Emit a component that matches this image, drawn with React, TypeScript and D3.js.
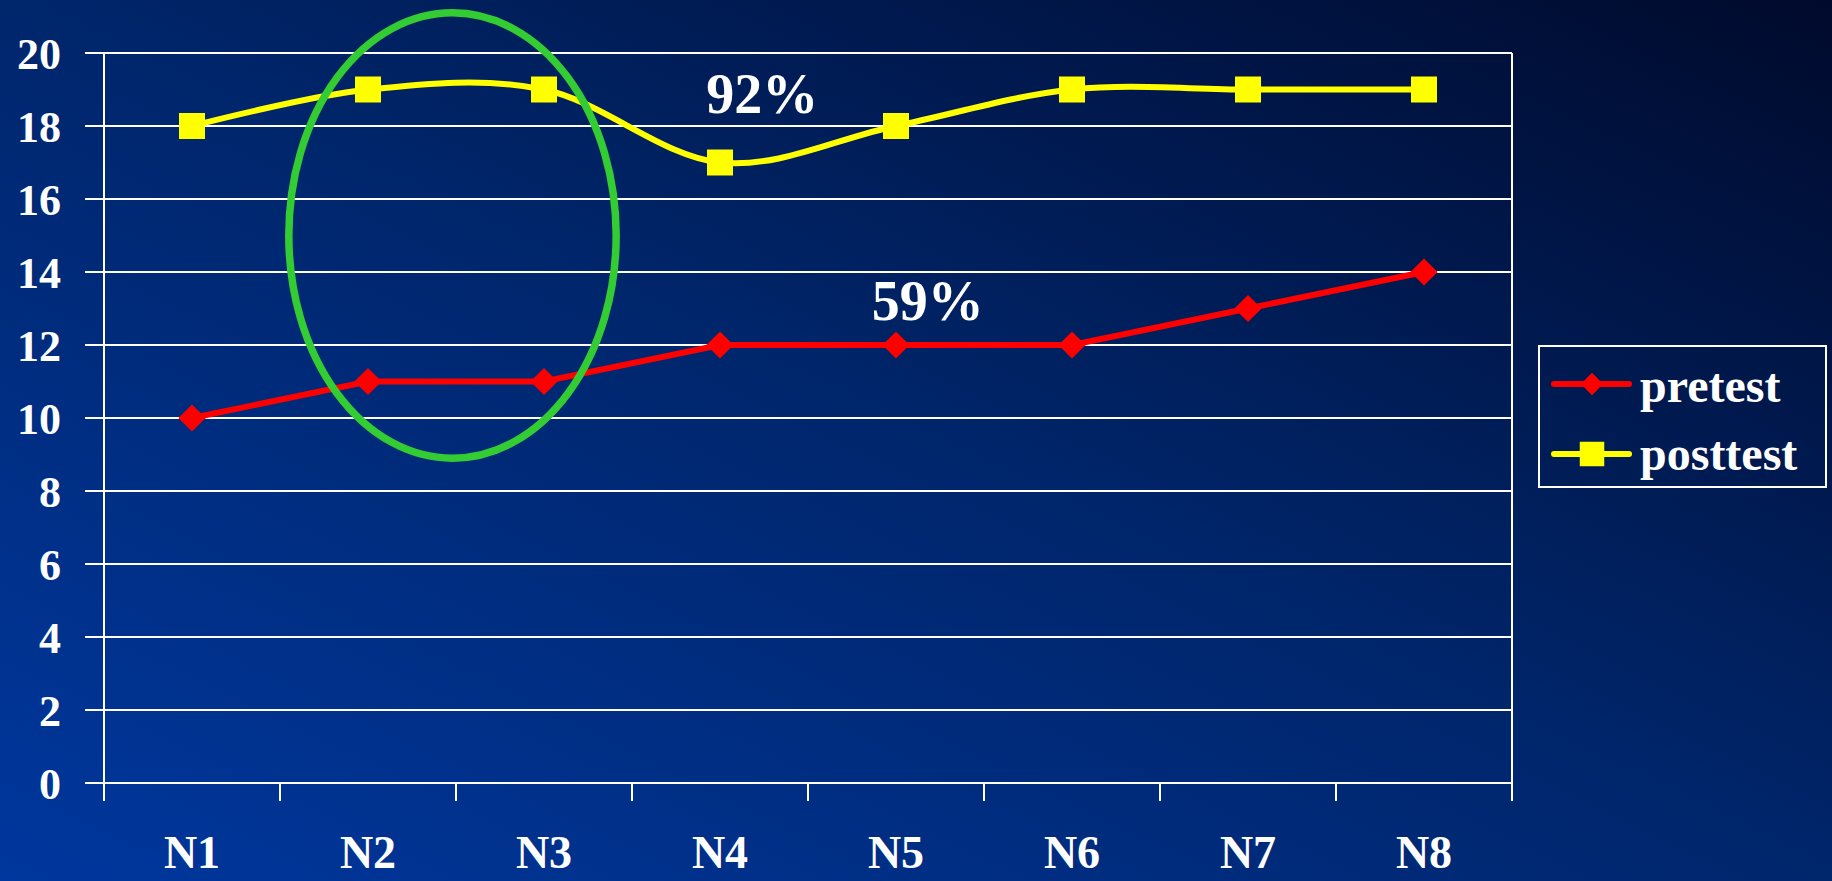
import * as d3 from 'd3';

const categories = ['N1', 'N2', 'N3', 'N4', 'N5', 'N6', 'N7', 'N8'];
const pretest = [10, 11, 11, 12, 12, 12, 13, 14];
const posttest = [18, 19, 19, 17, 18, 19, 19, 19];
const yTicks = [0, 2, 4, 6, 8, 10, 12, 14, 16, 18, 20];

// percent labels, placed in data space (category index, value)
const notes = [
  { text: '92%', at: 3.24, value: 18.36 },
  { text: '59%', at: 4.18, value: 12.68 },
];
// green ring around N2..N3
const ring = { at: 1.48, value: 15, halfBands: 0.93, halfValue: 6.1 };

const W = 1832;
const H = 881;
const left = 104;
const right = 1512;
const top = 53;
const bottom = 783;
const font = '"Liberation Serif", "Times New Roman", serif';

export default function App() {
  const x = d3.scaleBand().domain(categories).range([left, right]).padding(0);
  const bw = x.bandwidth();
  const cx = (c: string) => (x(c) as number) + bw / 2;
  const xi = d3.scaleLinear().domain([0, categories.length - 1]).range([cx(categories[0]), cx(categories[categories.length - 1])]);
  const y = d3.scaleLinear().domain([0, 20]).range([bottom, top]);

  const straight = d3.line<number>()
    .x((_, i) => cx(categories[i]))
    .y(d => y(d));
  const smooth = d3.line<number>()
    .x((_, i) => cx(categories[i]))
    .y(d => y(d))
    .curve(d3.curveCardinal.tension(0));

  const square = d3.symbol(d3.symbolSquare, 676)();
  const diamond = d3.symbol(d3.symbolSquare, 370)();
  const legSquare = d3.symbol(d3.symbolSquare, 600)();
  const legDiamond = d3.symbol(d3.symbolSquare, 250)();

  const edges = categories.map(c => x(c) as number).concat([right]);

  return (
    <svg width={W} height={H} style={{ position: 'fixed', left: 0, top: 0 }}>
      <defs>
        <linearGradient id="bg" x1={0} y1={1} x2={1} y2={0}>
          <stop offset="0%" stopColor="#00379e" />
          <stop offset="50%" stopColor="#00266c" />
          <stop offset="100%" stopColor="#000a2c" />
        </linearGradient>
      </defs>
      <rect width={W} height={H} fill="url(#bg)" />

      {/* grid + y ticks */}
      {yTicks.map(t => (
        <g key={t}>
          <line x1={left - 19} x2={right} y1={y(t)} y2={y(t)} stroke="#fff" strokeWidth={2} />
          <text x={61} y={y(t) + 16} textAnchor="end" fill="#fff"
            fontFamily={font} fontWeight="bold" fontSize={44}>{t}</text>
        </g>
      ))}

      {/* plot sides and x ticks at category boundaries */}
      {edges.map((e, i) => (
        <line key={i} x1={e} x2={e}
          y1={i === 0 || i === edges.length - 1 ? top : bottom}
          y2={bottom + 18} stroke="#fff" strokeWidth={2} />
      ))}

      {categories.map(c => (
        <text key={c} x={cx(c)} y={868} textAnchor="middle" fill="#fff"
          fontFamily={font} fontWeight="bold" fontSize={46}>{c}</text>
      ))}

      {/* pretest */}
      <path d={straight(pretest) ?? ''} fill="none" stroke="#ff0000" strokeWidth={6} />
      {pretest.map((v, i) => (
        <path key={i} d={diamond ?? ''} fill="#ff0000"
          transform={`translate(${cx(categories[i])},${y(v)}) rotate(45)`} />
      ))}

      {/* posttest */}
      <path d={smooth(posttest) ?? ''} fill="none" stroke="#ffff00" strokeWidth={6} />
      {posttest.map((v, i) => (
        <path key={i} d={square ?? ''} fill="#ffff00"
          transform={`translate(${cx(categories[i])},${y(v)})`} />
      ))}

      {notes.map(n => (
        <text key={n.text} x={xi(n.at)} y={y(n.value)} textAnchor="middle" fill="#fff"
          fontFamily={font} fontWeight="bold" fontSize={56}>{n.text}</text>
      ))}

      <ellipse cx={xi(ring.at)} cy={y(ring.value)} rx={ring.halfBands * bw}
        ry={y(0) - y(ring.halfValue)} fill="none" stroke="#33cc33" strokeWidth={7.5} />

      {/* legend */}
      <g>
        <rect x={1539} y={346} width={287} height={141} fill="none" stroke="#fff" strokeWidth={2} />
        <line x1={1554} x2={1629} y1={384} y2={384} stroke="#ff0000" strokeWidth={6} strokeLinecap="round" />
        <path d={legDiamond ?? ''} fill="#ff0000" transform="translate(1592,384) rotate(45)" />
        <text x={1640} y={402} fill="#fff" fontFamily={font} fontWeight="bold" fontSize={48}>pretest</text>
        <line x1={1554} x2={1629} y1={454} y2={454} stroke="#ffff00" strokeWidth={6} strokeLinecap="round" />
        <path d={legSquare ?? ''} fill="#ffff00" transform="translate(1592,454)" />
        <text x={1640} y={470} fill="#fff" fontFamily={font} fontWeight="bold" fontSize={48}>posttest</text>
      </g>
    </svg>
  );
}
